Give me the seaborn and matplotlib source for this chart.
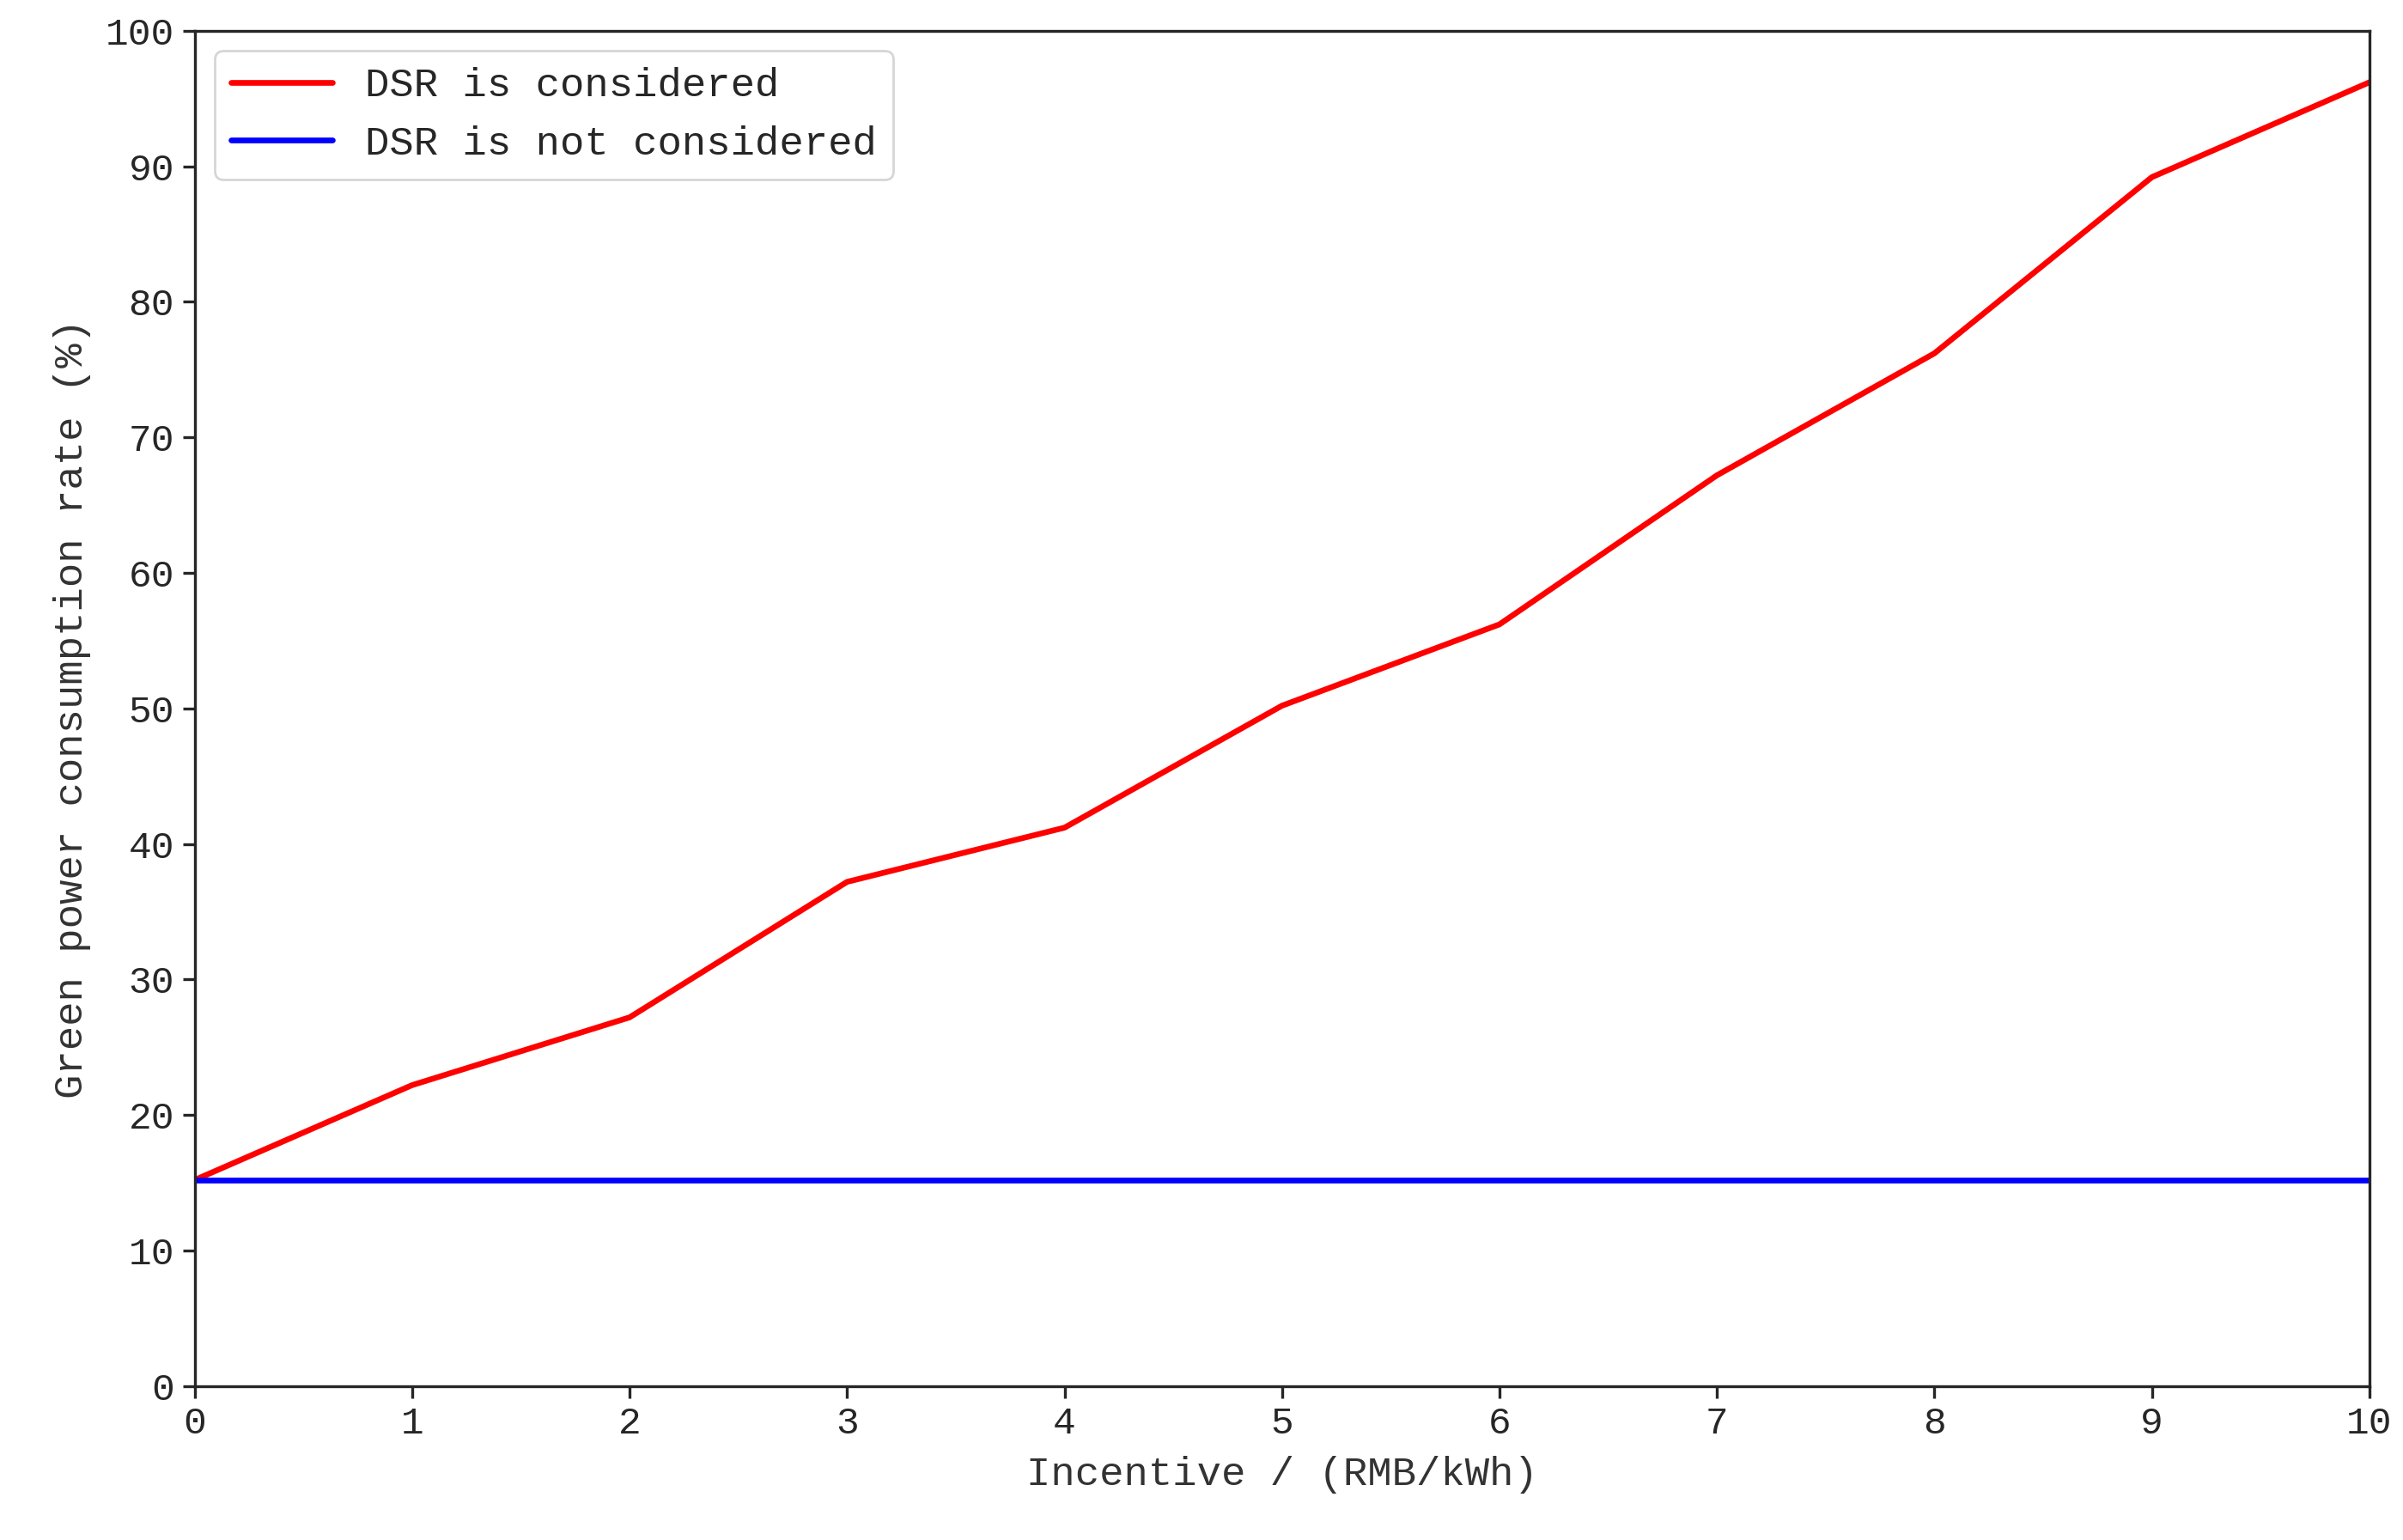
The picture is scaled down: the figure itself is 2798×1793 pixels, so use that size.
import matplotlib
matplotlib.use("Agg")
import matplotlib.pyplot as plt
import seaborn as sns
import pandas as pd

incentive = [0, 1, 2, 3, 4, 5, 6, 7, 8, 9, 10]
dsr_considered = [15.2, 22.2, 27.2, 37.2, 41.2, 50.2, 56.2, 67.2, 76.2, 89.2, 96.2]
dsr_not_considered = [15.2] * 11

df = pd.DataFrame({
    "x": incentive * 2,
    "y": dsr_considered + dsr_not_considered,
    "case": ["DSR is considered"] * 11 + ["DSR is not considered"] * 11,
})

sns.set_style("ticks")
plt.rcParams["font.family"] = ["Liberation Mono", "DejaVu Sans Mono"]

fig = plt.figure(figsize=(13.99, 8.965), dpi=200)
ax = fig.add_axes([0.081, 0.1, 0.905, 0.88])
sns.lineplot(data=df, x="x", y="y", hue="case",
             palette={"DSR is considered": "red", "DSR is not considered": "blue"},
             linewidth=2.4, ax=ax)

ax.set_xlim(0, 10)
ax.set_ylim(0, 100)
ax.set_xticks(range(0, 11))
ax.set_yticks(range(0, 101, 10))
ax.tick_params(labelsize=16, width=1.2, length=5)
ax.set_xlabel("Incentive / (RMB/kWh)", fontsize=17, color="#333333", labelpad=6)
ax.set_ylabel("Green power consumption rate (%)", fontsize=17, color="#333333", labelpad=6)
for s in ax.spines.values():
    s.set_linewidth(1.2)
    s.set_visible(True)
ax.legend(title=None, loc="upper left", fontsize=17, handlelength=2.5)

fig.savefig("out.png", dpi=200)
